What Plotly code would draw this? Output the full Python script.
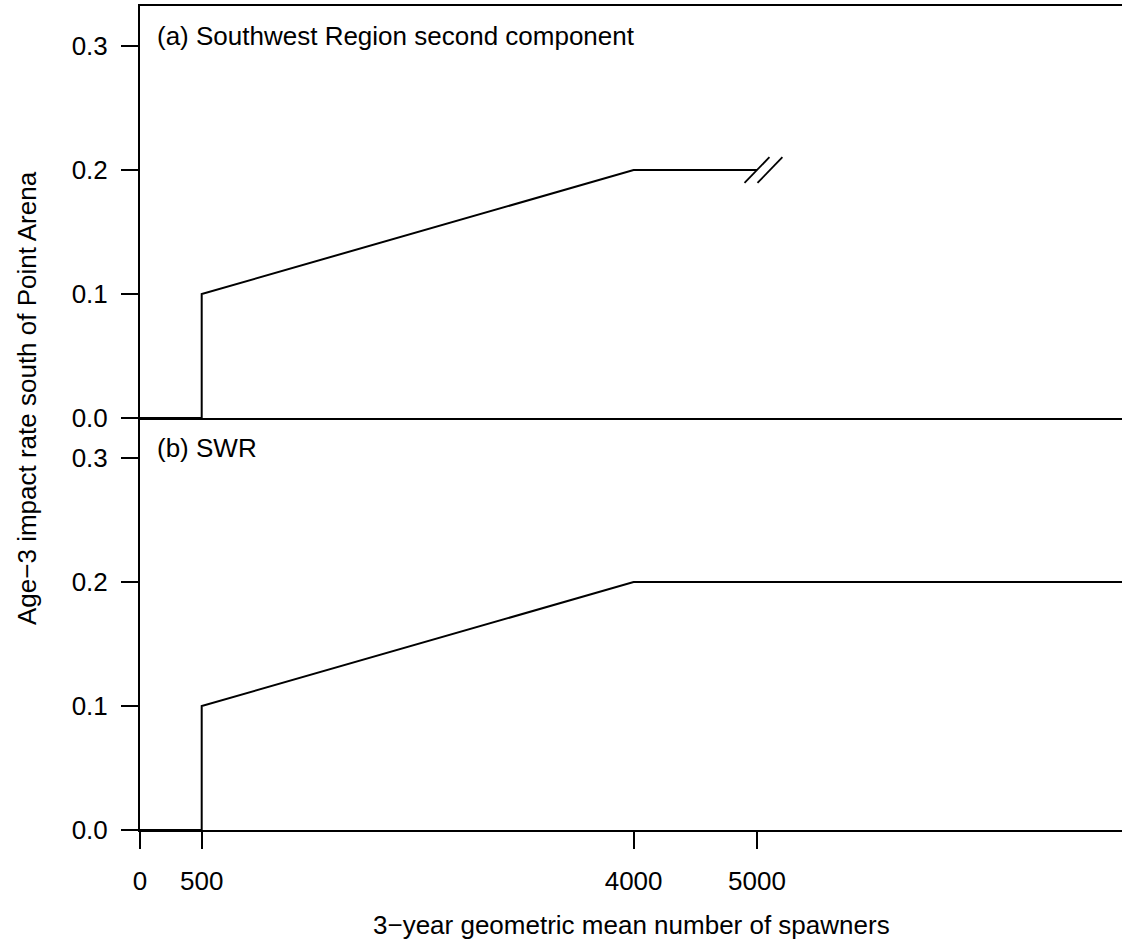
import plotly.graph_objects as go
from plotly.subplots import make_subplots

# Harvest control rule: spawner abundance vs. age-3 impact rate
spawners_a = [0, 500, 500, 4000, 5000]
impact_a = [0.0, 0.0, 0.1, 0.2, 0.2]

spawners_b = [0, 500, 500, 4000, 8000]
impact_b = [0.0, 0.0, 0.1, 0.2, 0.2]

x_ticks = [0, 500, 4000, 5000]
y_ticks = [0.0, 0.1, 0.2, 0.3]
y_tick_labels = ["0.0", "0.1", "0.2", "0.3"]

panel_labels = ["(a) Southwest Region second component", "(b) SWR"]
x_title = "3\u2212year geometric mean number of spawners"
y_title = "Age\u22123 impact rate south of Point Arena"

# axis break ("//") drawn on the truncated line of panel (a)
break_centers = [5000, 5105]
break_y = 0.2
break_dx = 101
break_dy = 0.0104

X_MAX = 7958
Y_MAX = 0.3323
FONT = "Liberation Sans, Arial, sans-serif"
LINE = dict(color="black", width=2)

fig = make_subplots(rows=2, cols=1, shared_xaxes=True, vertical_spacing=0)

fig.add_trace(go.Scatter(x=spawners_a, y=impact_a, mode="lines", line=LINE,
                         cliponaxis=False, showlegend=False), row=1, col=1)
fig.add_trace(go.Scatter(x=spawners_b, y=impact_b, mode="lines", line=LINE,
                         cliponaxis=False, showlegend=False), row=2, col=1)

bx, by = [], []
for c in break_centers:
    bx += [c - break_dx, c + break_dx, None]
    by += [break_y - break_dy, break_y + break_dy, None]
fig.add_trace(go.Scatter(x=bx, y=by, mode="lines", line=dict(color="black", width=1.8),
                         cliponaxis=False, showlegend=False), row=1, col=1)

tickfont = dict(family=FONT, size=26, color="black")

for r in (1, 2):
    fig.update_yaxes(range=[0, Y_MAX], tickvals=y_ticks, ticktext=y_tick_labels,
                     ticks="outside", ticklen=17, tickwidth=2, tickcolor="black",
                     showline=True, linecolor="black", linewidth=2,
                     showgrid=False, zeroline=False, tickfont=tickfont,
                     ticklabelstandoff=8, row=r, col=1)

fig.update_xaxes(range=[0, X_MAX], showgrid=False, zeroline=False,
                 showline=True, linecolor="black", linewidth=2, mirror=True,
                 showticklabels=False, ticks="", row=1, col=1)
fig.update_xaxes(range=[0, X_MAX], showgrid=False, zeroline=False,
                 showline=True, linecolor="black", linewidth=2,
                 tickvals=x_ticks, ticks="outside", ticklen=17, tickwidth=2,
                 tickcolor="black", tickfont=tickfont, ticklabelstandoff=10,
                 row=2, col=1)

fig.add_annotation(text=panel_labels[0], xref="x", yref="y domain", x=125, y=1 - 30 / 412,
                   xanchor="left", yanchor="middle", showarrow=False,
                   font=dict(family=FONT, size=26, color="black"))
fig.add_annotation(text=panel_labels[1], xref="x2", yref="y2 domain", x=125, y=1 - 30 / 412,
                   xanchor="left", yanchor="middle", showarrow=False,
                   font=dict(family=FONT, size=26, color="black"))

fig.add_annotation(text=x_title, xref="paper", yref="paper", x=0.5, y=-95 / 824,
                   xanchor="center", yanchor="middle", showarrow=False,
                   font=dict(family=FONT, size=26, color="black"))
fig.add_annotation(text=y_title, xref="paper", yref="paper", x=-113 / 982, y=(830 - 398) / 824,
                   xanchor="center", yanchor="middle", textangle=-90, showarrow=False,
                   font=dict(family=FONT, size=26, color="black"))

fig.update_layout(width=1122, height=947, margin=dict(l=140, r=0, t=6, b=117),
                  plot_bgcolor="white", paper_bgcolor="white")

fig.write_html("out.html")
